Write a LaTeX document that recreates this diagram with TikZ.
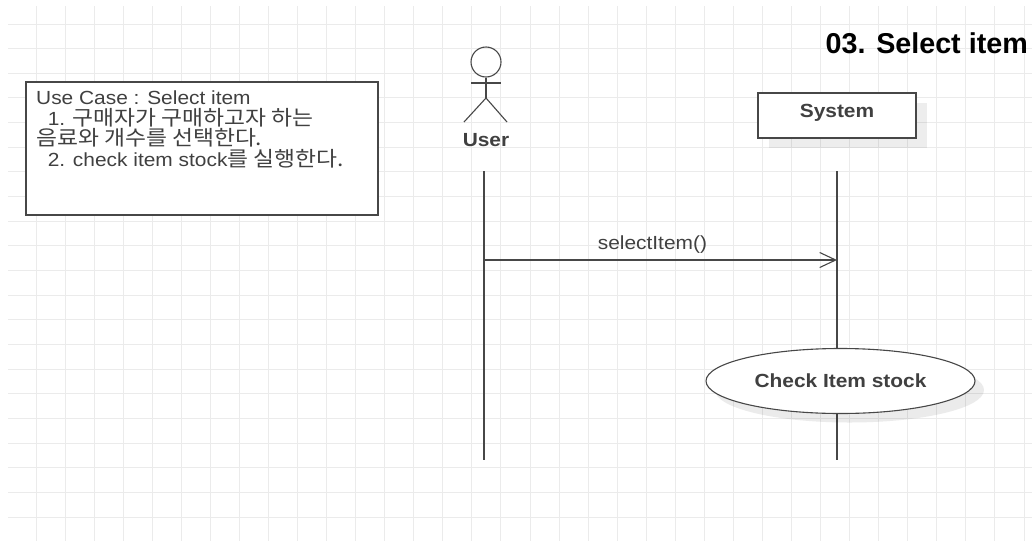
\documentclass[tikz,border=0pt]{standalone}
\usepackage{fontspec}
\setmainfont{Liberation Sans}[FakeStretch=1.1]
\newfontfamily\titlefont{Liberation Sans}
\newfontfamily\krfont{Noto Sans CJK KR}[Scale=1.09, FakeStretch=1.1]
\usetikzlibrary{positioning, arrows.meta, shapes.geometric, shadows}

\tikzset{
    gridline/.style={draw=black!8, line width=1pt},
    umlline/.style={draw=black!72, line width=1.1pt},
    softshadow/.style={drop shadow={shadow xshift=11pt, shadow yshift=-10pt, fill=black, opacity=0.07}},
    lifebox/.style={umlline, fill=white, minimum width=158pt, minimum height=45pt, softshadow},
    notebox/.style={umlline, line width=1.4pt, fill=white, minimum width=352pt, minimum height=133pt},
    usecase/.style={ellipse, umlline, fill=white, minimum width=269pt, minimum height=65pt,
        drop shadow={shadow xshift=9pt, shadow yshift=-9pt, fill=black, opacity=0.08}},
}

\begin{document}
\begin{tikzpicture}[x=1pt, y=-1pt, font=\fontsize{19}{20.5}\selectfont, text=black!75, inner sep=0pt]
    \useasboundingbox (0,0) rectangle (1032,541);
    \fill[white] (0,0) rectangle (1032,541);

    % grid
    \foreach \i in {0,...,34} {
        \draw[gridline] ({36+29.06*\i},6) -- ({36+29.06*\i},541);
    }
    \foreach \j in {0,...,20} {
        \draw[gridline] (8,{24+24.65*\j}) -- (1032,{24+24.65*\j});
    }

    \node[font=\fontsize{28.7}{32}\selectfont\titlefont\bfseries, text=black, anchor=east] (title) at (1028,43) {03. Select item};

    % use case note
    \node[notebox] (note) at (202,148.5) {};
    \node[anchor=north west, align=left] (notetext) at (36,91) {Use Case : Select item\\
        \ \ 1. {\krfont 구매자가 구매하고자 하는}\\
        {\krfont 음료와 개수를 선택한다.}\\
        \ \ 2. check item stock{\krfont 를 실행한다.}};

    % actor
    \node[circle, umlline, minimum size=30pt] (head) at (486,62) {};
    \coordinate (hip) at (486,98);
    \coordinate (armL) at (471,83);
    \coordinate (armR) at (501,83);
    \coordinate (legL) at (464,122);
    \coordinate (legR) at (507,122);
    \draw[umlline] (head) -- (hip);
    \draw[umlline] (armL) -- (armR);
    \draw[umlline] (legL) -- (hip) -- (legR);
    \node[font=\fontsize{19}{20}\selectfont\bfseries, below=11pt of hip |- legL] (user) {User};

    \node[lifebox] (system) at (837,115.5) {};
    \node[font=\fontsize{19}{20}\selectfont\bfseries] (systemlabel) at (837,113) {System};

    % lifelines
    \coordinate (userTop) at (484,171);
    \coordinate (userEnd) at (484,460);
    \coordinate (sysTop) at (837,171);
    \coordinate (sysEnd) at (837,460);
    \coordinate (msgFrom) at (484,260);
    \coordinate (msgTo) at (837,260);
    \draw[umlline] (userTop) -- (userEnd);
    \draw[umlline] (sysTop) -- (sysEnd);

    \draw[umlline, -{Straight Barb[length=16pt, width=15pt, line width=1.1pt]}] (msgFrom) -- (msgTo)
        node[pos=0.477, above=6pt] (msg) {selectItem()};

    \node[usecase] (check) at (840.5,381) {};
    \node[font=\fontsize{19}{20}\selectfont\bfseries] (checklabel) at (check) {Check Item stock};
\end{tikzpicture}
\end{document}
